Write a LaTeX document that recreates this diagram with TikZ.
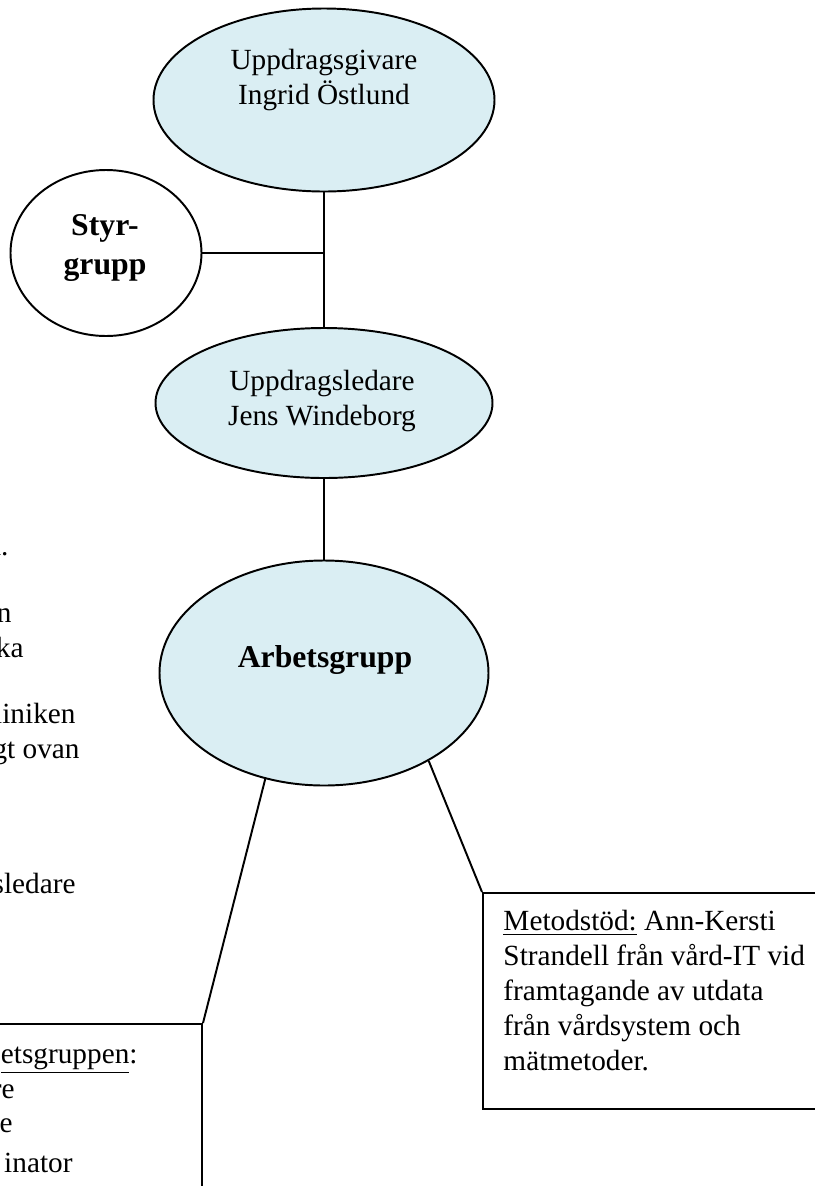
\documentclass[tikz,border=0pt]{standalone}
\usepackage{fontspec}
\setmainfont{Liberation Serif}
\usepackage{tikz}
\usetikzlibrary{shapes.geometric}
\definecolor{paleaqua}{RGB}{218, 238, 243}
\newcommand{\pxu}{0.41pt}
\tikzset{
  bubble/.style={ellipse, draw, line width=0.8pt, fill=paleaqua, inner sep=0pt},
  plaintext/.style={font=\fontsize{12}{14.3}\selectfont, align=center, inner sep=0pt},
  boldtext/.style={font=\fontsize{13}{16}\selectfont\bfseries, align=center, inner sep=0pt},
  framebox/.style={rectangle, draw, line width=0.8pt, inner sep=0pt},
  link/.style={line width=0.8pt},
  cuttext/.style={font=\fontsize{12}{14.3}\selectfont, anchor=base east, inner sep=0pt}
}

\begin{document}
\begin{tikzpicture}[x=0.41pt, y=-0.41pt]
  \useasboundingbox (0,0) rectangle (815,1186);
  \clip (0,0) rectangle (815,1186);
  % The chain of command
  \node[bubble, minimum width=341*\pxu, minimum height=183*\pxu] (giver) at (324,100) {};
  \node[bubble, minimum width=337*\pxu, minimum height=150*\pxu] (ledare) at (324,403) {};
  \node[bubble, minimum width=329*\pxu, minimum height=225*\pxu] (arbets) at (324,673) {};
  \node[ellipse, draw, line width=0.8pt, fill=white, minimum width=191*\pxu, minimum height=166*\pxu] (styr) at (106,253) {};
  \coordinate (junction) at (324,253);
  % Texts in the ellipses
  \node[plaintext] (giverText) at (324,80) {Uppdragsgivare\\Ingrid Östlund};
  \node[boldtext] (styrText) at (105,248) {Styr-\\grupp};
  \node[plaintext] (ledareText) at (322,401) {Uppdragsledare\\Jens Windeborg};
  \node[boldtext, anchor=base] (arbetsText) at (325,667) {Arbetsgrupp};
  % Boxes below
  \node[framebox, anchor=north east, minimum width=260*\pxu, minimum height=200*\pxu] (teamBox) at (203,1023) {};
  \node[framebox, anchor=north west, minimum width=340*\pxu, minimum height=216*\pxu] (metod) at (482,892) {};
  \node[plaintext, align=left, anchor=north west] (metodText) at (503,910)
    {\underline{Metodstöd:} Ann-Kersti\\Strandell från vård-IT vid\\framtagande av utdata\\från vårdsystem och\\mätmetoder.};
  % Connectors
  \draw[link] (giver.south) -- (ledare.north);
  \draw[link] (styr.east) -- (junction);
  \draw[link] (ledare.south) -- (arbets.north);
  \draw[link] (arbets.241) -- (teamBox.north east);
  \draw[link] (arbets.320) -- (metod.north west);
  % Cut-off text along the left edge
  \foreach \fx/\fy/\ftext [count=\i] in {9/555/{n.}, 12/622/{n}, 24/657/{ka}, 76/723/{liniken}, 80/758/{gt ovan}, 76/893/{sledare}, 138/1063/{\underline{etsgruppen}:}, 15/1098/{re}, 13/1132/{e}, 73/1172/{inator}}
    \node[cuttext] (cut\i) at (\fx,\fy) {\ftext};
\end{tikzpicture}
\end{document}
